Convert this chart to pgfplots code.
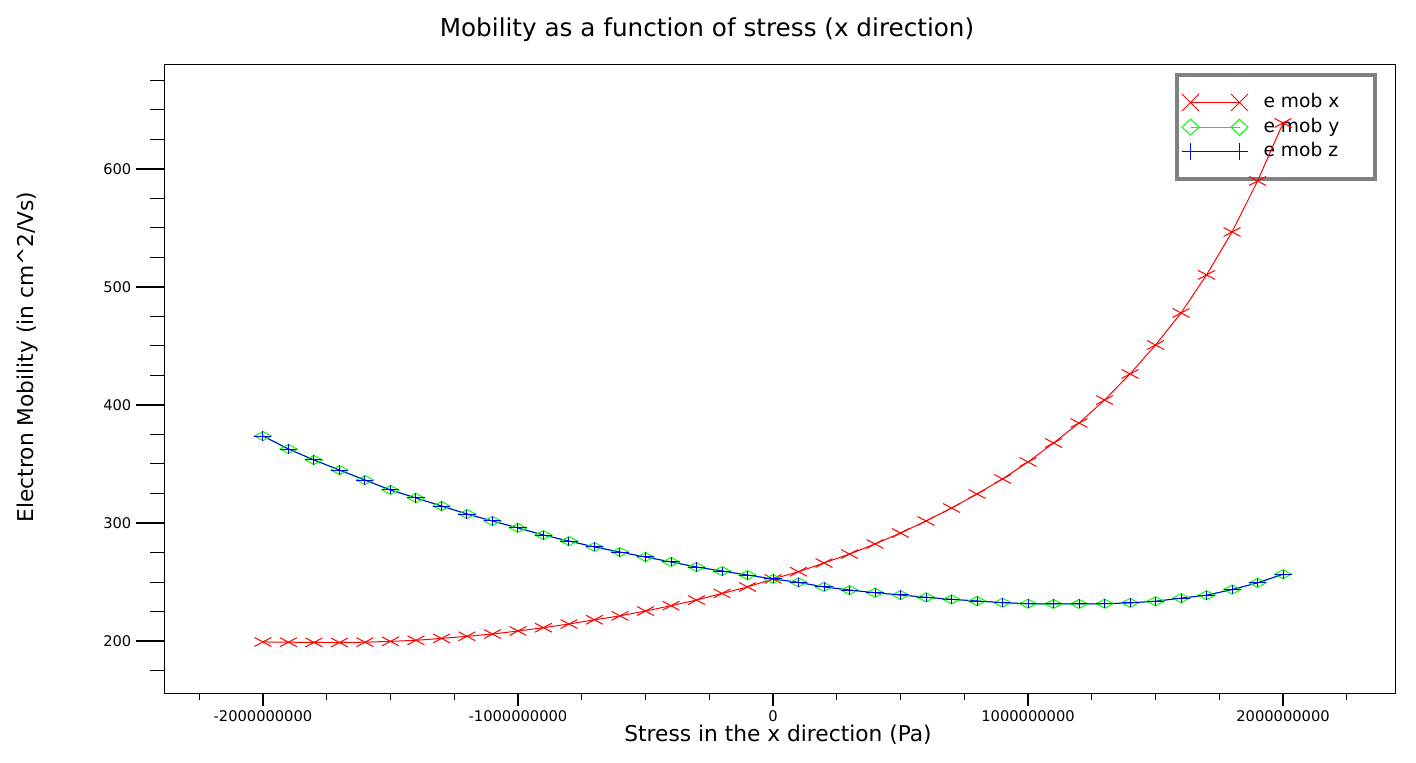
\documentclass[border=0pt]{standalone}
\usepackage{fontspec}
\setmainfont{DejaVu Sans}
\usepackage{pgfplots}
\usepackage{pgfplotstable}
\pgfplotsset{compat=1.18}

\pgfplotstableread{
x ex ey ez
-2000000000 199.2 373.7 373.7
-1900000000 199.0 362.7 362.7
-1800000000 198.8 353.4 353.4
-1700000000 198.7 344.9 344.9
-1600000000 199.0 336.4 336.4
-1500000000 199.7 328.0 328.0
-1400000000 200.6 321.2 321.2
-1300000000 202.2 314.4 314.4
-1200000000 204.0 307.6 307.6
-1100000000 205.9 301.7 301.7
-1000000000 208.5 295.8 295.8
-900000000 211.3 289.8 289.8
-800000000 214.4 284.7 284.7
-700000000 218.0 279.7 279.7
-600000000 221.3 275.4 275.4
-500000000 225.4 271.2 271.2
-400000000 229.9 267.0 267.0
-300000000 234.7 262.7 262.7
-200000000 240.3 259.3 259.3
-100000000 245.8 255.9 255.9
0 252.6 252.6 252.6
100000000 258.7 249.7 249.7
200000000 266.1 245.8 245.8
300000000 273.7 243.2 243.2
400000000 282.2 240.9 240.9
500000000 291.5 239.0 239.0
600000000 301.7 237.0 237.0
700000000 312.7 235.3 235.3
800000000 324.6 233.9 233.9
900000000 337.3 232.5 232.5
1000000000 351.7 231.6 231.6
1100000000 367.8 231.4 231.4
1200000000 384.7 231.4 231.4
1300000000 404.2 231.6 231.6
1400000000 426.3 232.3 232.3
1500000000 450.8 233.7 233.7
1600000000 478.0 236.3 236.3
1700000000 510.2 238.8 238.8
1800000000 546.6 243.6 243.6
1900000000 589.8 249.3 249.3
2000000000 639.0 256.6 256.6
}\mob

\pgfplotsset{
  common/.style={
    at={(123pt,51.75pt)}, anchor=south west,
    scale only axis, width=923.25pt, height=471.75pt,
    xmin=-2388000000, xmax=2439000000, ymin=155.1, ymax=688.1,
    axis line style={line width=0.75pt},
    tick align=outside, tick pos=left,
    scaled x ticks=false, scaled y ticks=false,
    major tick style={line width=1.6pt, black},
    minor tick style={line width=0.75pt, black},
    every major tick/.append style={line width=1.6pt},
    tick label style={font=\fontsize{11}{13}\selectfont},
    label style={font=\fontsize{16.3}{19}\selectfont},
    /pgf/number format/assume math mode=true,
    clip=false,
  },
}

\begin{document}
\begin{tikzpicture}
\path[use as bounding box] (0pt,0pt) rectangle (1062pt,572.25pt);

\begin{axis}[common,
  xtick=\empty,
  ytick={200,300,400,500,600},
  minor ytick={175,225,250,275,325,350,375,425,450,475,525,550,575,625,650,675},
  major tick length=21pt, minor tick length=10.5pt,
  ylabel={Electron Mobility (in cm\^{}2/Vs)},
  ylabel style={at={(axis description cs:-0.1105,0.5358)}, anchor=center},
  title={Mobility as a function of stress (x direction)},
  title style={at={(axis description cs:0.4411,1.045)}, anchor=base, yshift=-6pt, font=\fontsize{18.5}{22}\selectfont},
  legend cell align=left,
  legend image code/.code={\draw[#1] plot coordinates {(0pt,0pt) (36.75pt,0pt)};},
  legend style={at={(axis description cs:0.9854,0.9873)}, anchor=north east,
    draw=black!50, line width=3pt, fill=white,
    inner xsep=3.75pt, inner ysep=11.4pt, row sep=0pt, column sep=11.6pt,
    font=\fontsize{14}{17}\selectfont,
    nodes={inner xsep=0pt, inner ysep=2pt, text height=11pt, text depth=3.5pt}},
]
\addlegendimage{color=red, line width=0.75pt, mark=x, mark size=9pt, mark options={solid}}
\addlegendentry{e mob x\hspace*{23pt}}
\addlegendimage{color=green, line width=0.75pt, mark=diamond, mark size=6pt, mark options={solid, xscale=1.42}}
\addlegendentry{e mob y\hspace*{23pt}}
\addlegendimage{color=blue, line width=0.75pt, mark=+, mark size=6.4pt, mark options={solid}}
\addlegendentry{e mob z\hspace*{23pt}}
\end{axis}

\begin{axis}[common,
  ytick=\empty,
  xtick={-2000000000,-1000000000,0,1000000000,2000000000},
  xticklabels={-2000000000,-1000000000,0,1000000000,2000000000},
  minor xtick={-2250000000,-1750000000,-1500000000,-1250000000,-750000000,-500000000,-250000000,250000000,500000000,750000000,1250000000,1500000000,1750000000,2250000000},
  major tick length=9pt, minor tick length=4.5pt,
  xlabel={Stress in the x direction (Pa)},
  xlabel style={at={(axis description cs:0.4988,-0.0758)}, anchor=base},
]
\addplot[color=red, line width=0.75pt, mark=x, mark size=9pt, mark options={solid, yscale=0.53}] table[x=x, y=ex] {\mob};
\addplot[color=green, line width=0.75pt, mark=diamond, mark size=6pt, mark options={solid, xscale=1.42, yscale=0.56}] table[x=x, y=ey] {\mob};
\addplot[color=blue, line width=0.75pt, mark=+, mark size=6.4pt, mark options={solid, yscale=0.53}] table[x=x, y=ez] {\mob};
\end{axis}
\end{tikzpicture}
\end{document}
